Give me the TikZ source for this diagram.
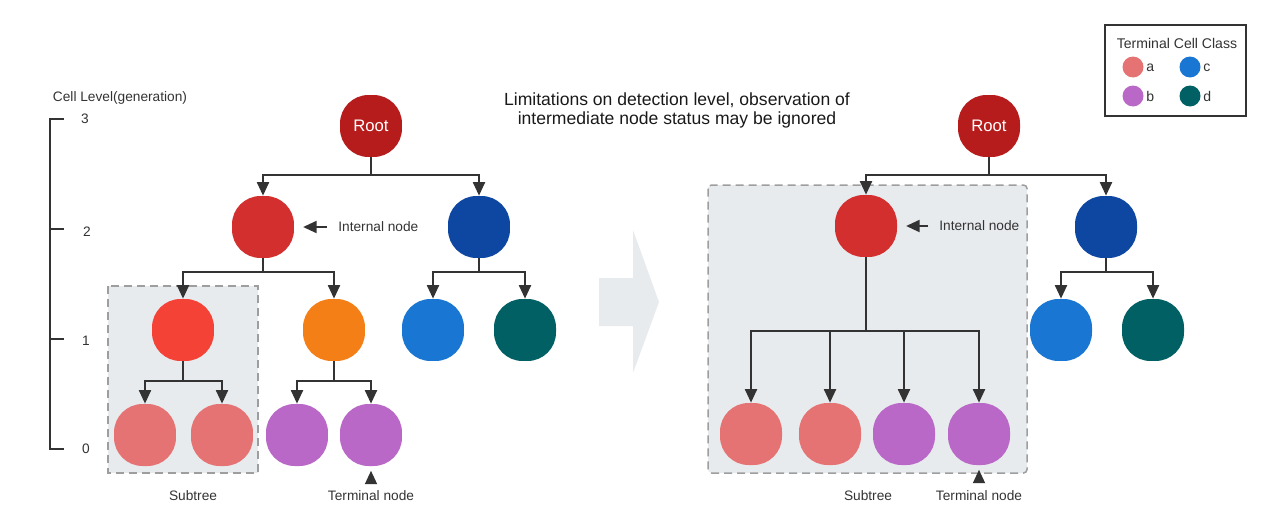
\documentclass[tikz,border=0pt]{standalone}
\usepackage{fontspec}
\setmainfont{Liberation Sans}
\usetikzlibrary{arrows.meta}
\definecolor{rootred}{HTML}{B71C1C}
\definecolor{midred}{HTML}{D32F2F}
\definecolor{darkblue}{HTML}{0D47A1}
\definecolor{brightred}{HTML}{F44336}
\definecolor{cellorange}{HTML}{F57F17}
\definecolor{classa}{HTML}{E57373}
\definecolor{classb}{HTML}{BA68C8}
\definecolor{classc}{HTML}{1976D2}
\definecolor{classd}{HTML}{006064}
\definecolor{linegray}{HTML}{333333}
\definecolor{boxfill}{HTML}{E8EBEE}
\definecolor{dashgray}{HTML}{9E9E9E}

\begin{document}
\begin{tikzpicture}[x=0.02cm,y=-0.02cm,
  every node/.style={font=\fontsize{7.8}{9}\selectfont, text=linegray},
  cell/.style={rectangle, rounded corners=0.57cm, minimum size=1.24cm, inner sep=0pt},
  dot/.style={circle, minimum size=0.42cm, inner sep=0pt},
  edge/.style={draw=linegray, line width=1.1pt, -{Triangle[length=0.27cm,width=0.24cm]}},
  subtree/.style={draw=dashgray, fill=boxfill, line width=0.85pt, dash pattern=on 0.16cm off 0.1cm}]
  \useasboundingbox (0,0) rectangle (1285,531);

  % level scale
  \node (levels) at (120,98) {Cell Level(generation)};
  \draw[linegray, line width=1.1pt] (64,119) -- (50,119) -- (50,449) -- (64,449);
  \draw[linegray, line width=1.1pt] (50,229) -- (64,229);
  \draw[linegray, line width=1.1pt] (50,339) -- (64,339);
  \node (lv3) at (85,119) {3};
  \node (lv2) at (87,232) {2};
  \node (lv1) at (86,341) {1};
  \node (lv0) at (86,449) {0};

  % left tree
  \draw[subtree] (108,286) rectangle (258,473);
  \node [cell, fill=rootred, text=white, font=\fontsize{9.5}{11}\selectfont](root) at (371,126) {Root};
  \node [cell, fill=midred](ia) at (263,227) {};
  \node [cell, fill=darkblue](ib) at (479,227) {};
  \node [cell, fill=brightred](ja) at (183,330) {};
  \node [cell, fill=cellorange](jb) at (334,330) {};
  \node [cell, fill=classc](jc) at (433,330) {};
  \node [cell, fill=classd](jd) at (525,330) {};
  \node [cell, fill=classa](ka) at (145,435) {};
  \node [cell, fill=classa](kb) at (222,435) {};
  \node [cell, fill=classb](kc) at (297,435) {};
  \node [cell, fill=classb](kd) at (371,435) {};
  \draw[edge] (root.south) -- ++(0,18) -| (ia.north);
  \draw[edge] (root.south) -- ++(0,18) -| (ib.north);
  \draw[edge] (ia.south) -- ++(0,14) -| (ja.north);
  \draw[edge] (ia.south) -- ++(0,14) -| (jb.north);
  \draw[edge] (ib.south) -- ++(0,14) -| (jc.north);
  \draw[edge] (ib.south) -- ++(0,14) -| (jd.north);
  \draw[edge] (ja.south) -- ++(0,20) -| (ka.north);
  \draw[edge] (ja.south) -- ++(0,20) -| (kb.north);
  \draw[edge] (jb.south) -- ++(0,20) -| (kc.north);
  \draw[edge] (jb.south) -- ++(0,20) -| (kd.north);
  \node [anchor=west, inner sep=0pt](intl) at (338,227) {Internal node};
  \draw[edge, shorten <=6.3pt, shorten >=5pt] (intl.west) -- (ia.east);
  \node (subl) at (193,496) {Subtree};
  \node (terml) at (371,496) {Terminal node};
  \draw[edge, shorten <=2pt, shorten >=2.5pt] (terml.north) -- (kd.south);

  % big arrow
  \fill[boxfill] (599,278) -- (633,278) -- (633,230) -- (659,302) -- (633,373) -- (633,326) -- (599,326) -- cycle;

  \node [align=center, font=\fontsize{10}{10.8}\selectfont, text=black!90](title) at (677,110) {Limitations on detection level, observation of\\intermediate node status may be ignored};

  % right tree
  \draw[subtree, rounded corners=2pt] (708,185) rectangle (1027,473);
  \node [cell, fill=rootred, text=white, font=\fontsize{9.5}{11}\selectfont](rroot) at (989,126) {Root};
  \node [cell, fill=midred](ra) at (866,226) {};
  \node [cell, fill=darkblue](rb) at (1106,227) {};
  \node [cell, fill=classc](rc) at (1061,330) {};
  \node [cell, fill=classd](rd) at (1153,330) {};
  \node [cell, fill=classa](sa) at (751,434) {};
  \node [cell, fill=classa](sb) at (830,434) {};
  \node [cell, fill=classb](sc) at (904,434) {};
  \node [cell, fill=classb](sd) at (979,434) {};
  \draw[edge] (rroot.south) -- ++(0,18) -| (ra.north);
  \draw[edge] (rroot.south) -- ++(0,18) -| (rb.north);
  \draw[edge] (rb.south) -- ++(0,14) -| (rc.north);
  \draw[edge] (rb.south) -- ++(0,14) -| (rd.north);
  \draw[edge] (ra.south) -- ++(0,74) -| (sa.north);
  \draw[edge] (ra.south) -- ++(0,74) -| (sb.north);
  \draw[edge] (ra.south) -- ++(0,74) -| (sc.north);
  \draw[edge] (ra.south) -- ++(0,74) -| (sd.north);
  \node [anchor=west, inner sep=0pt](rintl) at (939,226) {Internal node};
  \draw[edge, shorten <=6pt, shorten >=5pt] (rintl.west) -- (ra.east);
  \node (rsubl) at (868,496) {Subtree};
  \node (rterml) at (979,496) {Terminal node};
  \draw[edge, shorten <=2pt, shorten >=2.5pt] (rterml.north) -- (sd.south);

  % legend
  \draw[linegray, line width=1.1pt] (1105,25) rectangle (1246,116);
  \node [font=\fontsize{8}{9}\selectfont](legt) at (1177,43) {Terminal Cell Class};
  \node [dot, fill=classa](la) at (1133,67) {};
  \node [dot, fill=classc](lc) at (1190,67) {};
  \node [dot, fill=classb](lb) at (1133,96) {};
  \node [dot, fill=classd](ld) at (1190,96) {};
  \node [anchor=west, inner sep=0pt, font=\fontsize{8}{9}\selectfont] at (1146,68) {a};
  \node [anchor=west, inner sep=0pt, font=\fontsize{8}{9}\selectfont] at (1203,68) {c};
  \node [anchor=west, inner sep=0pt, font=\fontsize{8}{9}\selectfont] at (1146,96) {b};
  \node [anchor=west, inner sep=0pt, font=\fontsize{8}{9}\selectfont] at (1203,96) {d};
\end{tikzpicture}
\end{document}
